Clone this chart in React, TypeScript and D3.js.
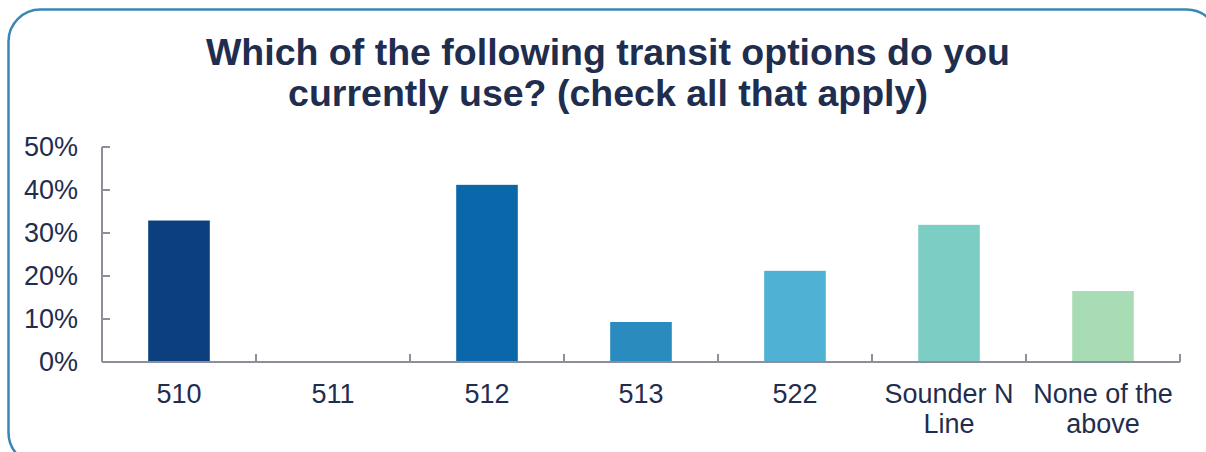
import React from "react";
import * as d3 from "d3";

const categories = ["510", "511", "512", "513", "522", "Sounder N|Line", "None of the|above"];
const values = [0.329, 0, 0.412, 0.093, 0.212, 0.319, 0.165];
const colors = ["#0b3f7e", "#0b3f7e", "#0a67aa", "#2a8bbe", "#4fb1d3", "#7ccdc4", "#a8dcb4"];
const yTicks = [0, 0.1, 0.2, 0.3, 0.4, 0.5];
const titleLines = ["Which of the following transit options do you", "currently use? (check all that apply)"];

const W = 1206, H = 452;
const left = 102, right = 1180, top = 147, bottom = 362;
const textColor = "#1f2d4e";
const axisColor = "#8c8f99";
const font = "Liberation Sans, Arial, sans-serif";

export default function App() {
  const x = d3.scaleBand<string>().domain(categories).range([left, right]).paddingInner(0.6).paddingOuter(0.3);
  const xb = d3.scaleBand<string>().domain(categories).range([left, right]);
  const y = d3.scaleLinear().domain([0, 0.5]).range([bottom, top]);
  const fmt = d3.format(".0%");
  return (
    <svg width={W} height={H} style={{ position: "absolute", left: 0, top: 0 }} fontFamily={font}>
      <rect x={0} y={0} width={W} height={H} fill="#ffffff" />
      <rect x={8.5} y={9.5} width={1210} height={455} rx={32} ry={32} fill="none" stroke="#3a86b6" strokeWidth={2.5} />
      {titleLines.map((t, i) => (
        <text key={i} x={608} y={65 + i * 41} textAnchor="middle" fontSize={37.5} fontWeight="bold" fill={textColor}>{t}</text>
      ))}
      {values.map((v, i) => (
        <rect key={i} x={x(categories[i])} y={y(v)} width={x.bandwidth()} height={bottom - y(v)} fill={colors[i]} />
      ))}
      <line x1={left} x2={left} y1={top} y2={bottom} stroke={axisColor} strokeWidth={2} />
      {yTicks.map((t, i) => (
        <g key={i}>
          <line x1={left} x2={left + 8} y1={y(t)} y2={y(t)} stroke={axisColor} strokeWidth={2} />
          <text x={78} y={y(t)} dy="0.35em" textAnchor="end" fontSize={27} fill={textColor}>{fmt(t)}</text>
        </g>
      ))}
      <line x1={left} x2={right} y1={bottom} y2={bottom} stroke={axisColor} strokeWidth={2} />
      {categories.map((c, i) => (
        <line key={i} x1={(xb(c) as number) + xb.bandwidth()} x2={(xb(c) as number) + xb.bandwidth()} y1={bottom} y2={bottom - 8} stroke={axisColor} strokeWidth={2} />
      ))}
      {categories.map((c, i) => {
        const cx = (xb(c) as number) + xb.bandwidth() / 2;
        return c.split("|").map((line, j) => (
          <text key={i + "-" + j} x={cx} y={403 + j * 30} textAnchor="middle" fontSize={27} fill={textColor}>{line}</text>
        ));
      })}
    </svg>
  );
}
